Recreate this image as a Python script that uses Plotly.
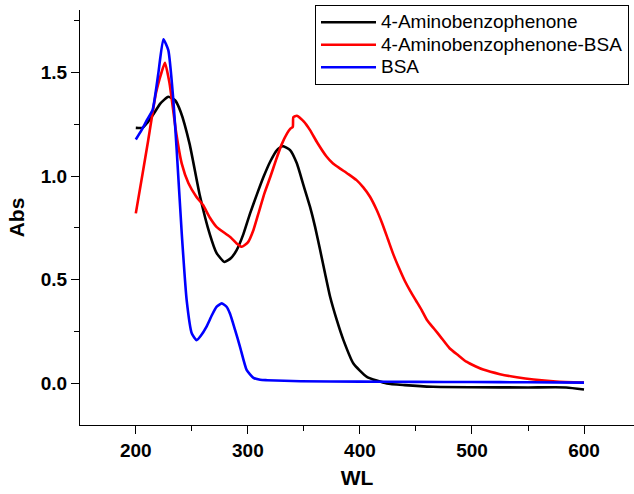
import plotly.graph_objects as go

# ---- data ----
wl_black = [200, 206, 210, 216, 222, 229, 235, 240, 248, 257, 266, 272, 279, 285, 290, 296, 302, 308, 314, 320, 326, 331, 337.7, 343.7, 349.6, 355.5, 360, 364.5, 368.9, 373.4, 379.4, 385.3, 394.2, 406.2, 424, 440, 465, 500, 550, 584, 600]
abs_black = [1.232, 1.232, 1.255, 1.30, 1.35, 1.382, 1.365, 1.31, 1.155, 0.91, 0.72, 0.63, 0.586, 0.605, 0.643, 0.72, 0.82, 0.91, 0.996, 1.07, 1.125, 1.144, 1.125, 1.061, 0.956, 0.851, 0.755, 0.643, 0.530, 0.418, 0.305, 0.209, 0.096, 0.032, 0.0, -0.008, -0.016, -0.018, -0.019, -0.019, -0.029]

wl_red = [200, 206, 211, 218, 223, 226, 230, 236, 241, 247, 254, 260, 266, 272, 284, 290, 294.5, 300, 305, 310, 315, 320, 325, 330, 335, 338, 340.1, 340.6, 343.7, 350, 355.5, 362, 370, 376, 382, 390, 397, 403, 409, 415, 420, 425, 430, 435, 440, 445, 450, 455, 460, 466, 472, 480, 488, 495, 503, 510, 525, 540, 555, 575, 600]
abs_red = [0.82, 1.01, 1.17, 1.40, 1.50, 1.546, 1.45, 1.21, 1.06, 0.965, 0.90, 0.86, 0.80, 0.755, 0.707, 0.675, 0.659, 0.68, 0.74, 0.83, 0.92, 0.995, 1.075, 1.15, 1.205, 1.228, 1.237, 1.283, 1.29, 1.262, 1.221, 1.16, 1.095, 1.06, 1.037, 1.008, 0.98, 0.945, 0.90, 0.836, 0.77, 0.695, 0.62, 0.555, 0.495, 0.445, 0.40, 0.355, 0.305, 0.265, 0.225, 0.17, 0.135, 0.105, 0.083, 0.067, 0.045, 0.03, 0.019, 0.01, 0.005]

wl_blue = [200, 205, 210, 215, 220, 224.6, 229, 233.5, 236.5, 241, 245.4, 250, 254.3, 258, 263, 268, 272, 276.7, 281, 284, 288.5, 293, 299, 305, 311, 317, 347, 400, 450, 500, 550, 600]
abs_blue = [1.176, 1.22, 1.27, 1.318, 1.49, 1.659, 1.607, 1.366, 1.125, 0.723, 0.401, 0.241, 0.209, 0.23, 0.273, 0.33, 0.369, 0.386, 0.37, 0.337, 0.26, 0.177, 0.064, 0.027, 0.018, 0.016, 0.011, 0.009, 0.008, 0.007, 0.006, 0.004]

names = ["4-Aminobenzophenone", "4-Aminobenzophenone-BSA", "BSA"]
colors = ["#000000", "#ff0000", "#0000ff"]

x_range = [150.2, 644.6]
y_range = [-0.2, 1.8]

fig = go.Figure()
for xs, ys, name, col in zip([wl_black, wl_red, wl_blue], [abs_black, abs_red, abs_blue], names, colors):
    fig.add_trace(go.Scatter(
        x=xs, y=ys, mode="lines", line=dict(color=col, width=2.6, shape="spline", smoothing=0.5),
        name='<span style="font-size:19px">' + name + '</span>'))

FONT = "Liberation Sans, Arial, sans-serif"
axis_common = dict(
    showline=True, linecolor="black", linewidth=1.3, mirror=False,
    ticks="outside", ticklen=8, tickwidth=1.3, tickcolor="black",
    showgrid=False, zeroline=False, automargin=False,
    tickfont=dict(family=FONT, size=19, color="black", weight="bold"),
)

fig.update_layout(
    template="none",
    width=634, height=494,
    margin=dict(l=80, r=0, t=10, b=69),
    paper_bgcolor="white", plot_bgcolor="white",
    font=dict(family=FONT, color="black"),
    xaxis=dict(range=x_range, dtick=100, tick0=0,
               minor=dict(dtick=50, tick0=0, ticks="outside", ticklen=5, tickwidth=1.3, tickcolor="black", showgrid=False),
               title=dict(text="WL", font=dict(family=FONT, size=21, weight="bold"), standoff=10),
               **axis_common),
    yaxis=dict(range=y_range, dtick=0.5, tick0=0, tickformat=".1f",
               minor=dict(dtick=0.25, tick0=0, ticks="outside", ticklen=5, tickwidth=1.3, tickcolor="black", showgrid=False),
               title=dict(text="Abs", font=dict(family=FONT, size=21, weight="bold"), standoff=10),
               **axis_common),
    legend=dict(x=(315 - 80) / 554, y=1 + 5 / 415, xanchor="left", yanchor="top",
                bordercolor="black", borderwidth=1, bgcolor="white",
                font=dict(family=FONT, size=15, color="black"),
                itemwidth=55, tracegroupgap=0),
    showlegend=True,
)

fig.write_html("out.html", config={"displayModeBar": False},
               post_script="document.body.style.margin='0';")
